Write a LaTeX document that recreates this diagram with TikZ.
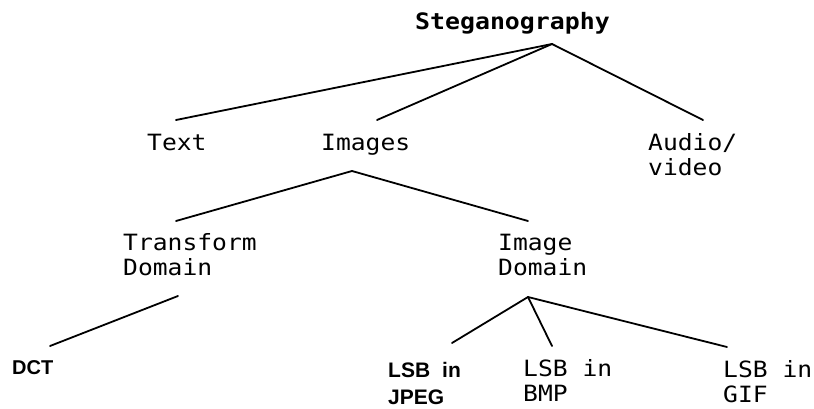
\documentclass[tikz,border=0pt]{standalone}
\usepackage{fontspec}
\newfontfamily\treemono[FakeStretch=1.1]{DejaVu Sans Mono}
\newfontfamily\treesans{Liberation Sans}
% two stacked lines, baseline on the first one
\newcommand\twoline[2]{\begin{tabular}[t]{@{}l@{}}#1\\#2\end{tabular}}
\begin{document}
\begin{tikzpicture}[x=1pt,y=-1pt,
  mono/.style={font=\treemono\fontsize{22.4}{25}\selectfont, inner sep=0pt, anchor=base west},
  title/.style={mono, font=\treemono\bfseries\fontsize{22.6}{25}\selectfont},
  leafb/.style={font=\treesans\bfseries\fontsize{21}{27.5}\selectfont, inner sep=0pt, anchor=base west},
  edge/.style={line width=1.8pt, line cap=round}]
\useasboundingbox (0,0) rectangle (814,409);

% nodes
\node[title] (steg)  at (415,30)  {Steganography};
\node[mono]  (text)  at (147,150) {Text};
\node[mono]  (img)   at (321,150) {Images};
\node[mono]  (audio) at (648,150) {\twoline{Audio/}{video}};
\node[mono]  (trans) at (123,250) {\twoline{Transform}{Domain}};
\node[mono]  (idom)  at (498,250) {\twoline{Image}{Domain}};
\node[leafb, font=\treesans\bfseries\fontsize{20}{24}\selectfont] (dct) at (12,374) {DCT};
\node[leafb] (jpeg)  at (388,377) {\twoline{LSB\hspace{12pt}in}{JPEG}};
\node[mono]  (bmp)   at (523,376) {\twoline{LSB in}{BMP}};
\node[mono]  (gif)   at (723,377) {\twoline{LSB in}{GIF}};

% branching points
\coordinate (sj) at ([shift={(137,14)}]steg.base west);
\coordinate (ij) at ([shift={(31,21)}]img.base west);
\coordinate (tj) at ([shift={(55,46)}]trans.base west);
\coordinate (dj) at ([shift={(30,47)}]idom.base west);

% connectors
\draw[edge] (sj) -- ([shift={(29,-30)}]text.base west);
\draw[edge] (sj) -- ([shift={(56,-30)}]img.base west);
\draw[edge] (sj) -- ([shift={(55,-30)}]audio.base west);
\draw[edge] (ij) -- ([shift={(53,-29)}]trans.base west);
\draw[edge] (ij) -- ([shift={(30,-29)}]idom.base west);
\draw[edge] (tj) -- ([shift={(38,-28)}]dct.base west);
\draw[edge] (dj) -- ([shift={(64,-34)}]jpeg.base west);
\draw[edge] (dj) -- ([shift={(29,-30)}]bmp.base west);
\draw[edge] (dj) -- ([shift={(4,-30)}]gif.base west);
\end{tikzpicture}
\end{document}
